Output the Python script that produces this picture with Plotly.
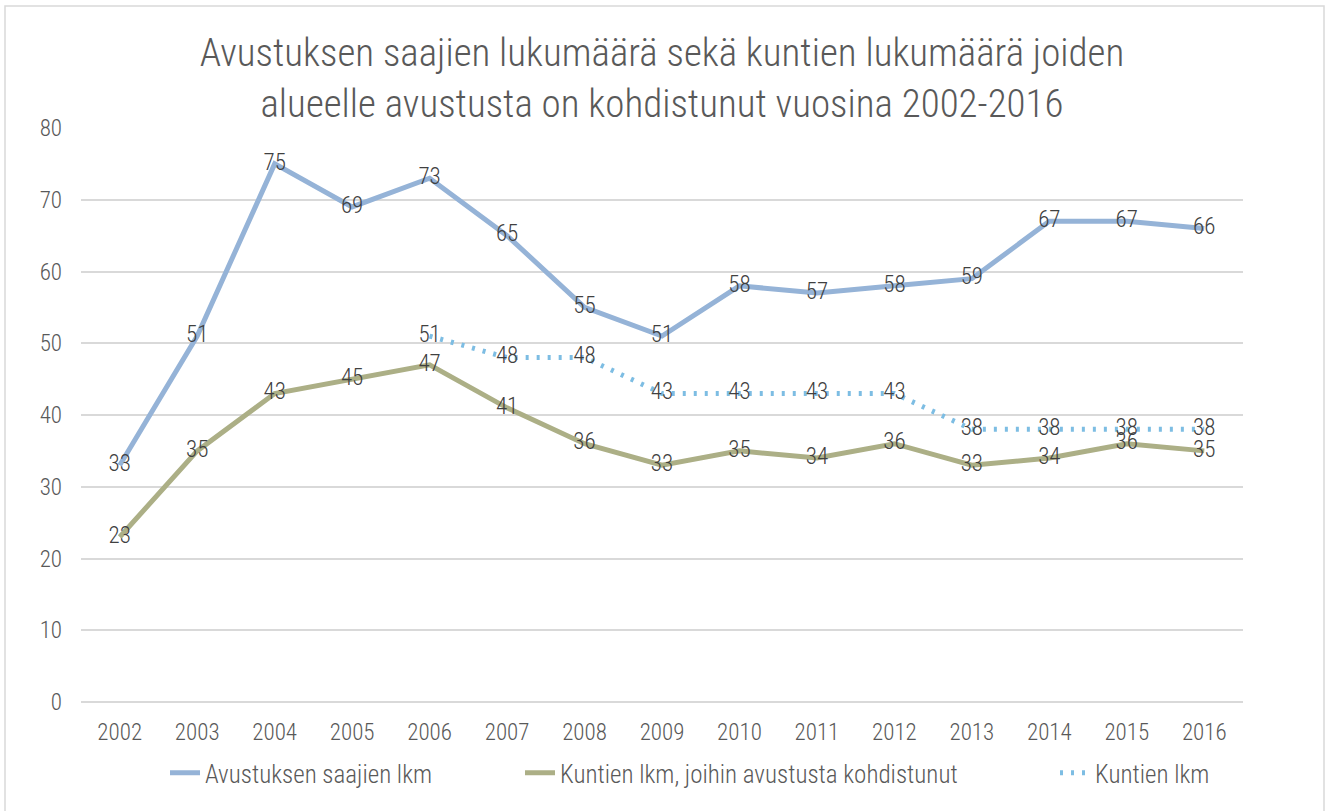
import plotly.graph_objects as go

years = [str(y) for y in range(2002, 2017)]
saajat = [33, 51, 75, 69, 73, 65, 55, 51, 58, 57, 58, 59, 67, 67, 66]
kunnat_kohd = [23, 35, 43, 45, 47, 41, 36, 33, 35, 34, 36, 33, 34, 36, 35]
kunnat = [None, None, None, None, 51, 48, 48, 43, 43, 43, 43, 38, 38, 38, 38]

names = ["Avustuksen saajien lkm", "Kuntien lkm, joihin avustusta kohdistunut", "Kuntien lkm"]
FONT = "Roboto Condensed, Liberation Sans Narrow, Arial Narrow, sans-serif"
LBL = 23

L, R, T, B = 81, 87, 128, 109
W, H = 1330, 811
pw, ph = W - L - R, H - T - B

def px_x(p):
    return (p - L) / pw

def px_y(p):
    return (H - B - p) / ph

fig = go.Figure()
fig.add_trace(go.Scatter(x=years, y=saajat, name=names[0], mode="lines+text", legend="legend",
                         line=dict(color="#95B3D7", width=5),
                         text=[str(v) for v in saajat], textposition="middle center",
                         textfont=dict(size=LBL, color="#404040", family=FONT, weight=300)))
fig.add_trace(go.Scatter(x=years, y=kunnat_kohd, name=names[1], mode="lines+text", legend="legend2",
                         line=dict(color="#ACAF86", width=5),
                         text=[str(v) for v in kunnat_kohd], textposition="middle center",
                         textfont=dict(size=LBL, color="#404040", family=FONT, weight=300)))
fig.add_trace(go.Scatter(x=years, y=kunnat, name=names[2], mode="lines+text", legend="legend3",
                         line=dict(color="#7DBDE3", width=5, dash="3px,8px"),
                         text=["" if v is None else str(v) for v in kunnat], textposition="middle center",
                         textfont=dict(size=LBL, color="#404040", family=FONT, weight=300)))

fig.add_shape(type="rect", xref="paper", yref="paper",
              x0=px_x(5), x1=px_x(1324), y0=px_y(815), y1=px_y(6),
              line=dict(color="#D9D9D9", width=1.5), fillcolor="rgba(0,0,0,0)", layer="below")

def leg(text_start):
    return dict(orientation="h", x=px_x(text_start - 40), xanchor="left", y=px_y(773), yanchor="middle",
                font=dict(size=25, color="#595959", weight=300), bgcolor="rgba(0,0,0,0)")

fig.update_layout(
    width=W, height=H,
    margin=dict(l=L, r=R, t=T, b=B),
    paper_bgcolor="white", plot_bgcolor="white",
    font=dict(family=FONT, color="#595959", weight=300),
    title=dict(text="Avustuksen saajien lukumäärä sekä kuntien lukumäärä joiden<br>alueelle avustusta on kohdistunut vuosina 2002-2016",
               x=0.5, xref="paper", xanchor="center", y=1 - 66 / H, yanchor="middle",
               font=dict(size=39, color="#595959", family=FONT, weight=300)),
    xaxis=dict(type="category", showgrid=False, showline=False, ticks="",
               ticklabelstandoff=14,
               tickfont=dict(size=23, color="#595959", weight=300), range=[-0.5, 14.5]),
    yaxis=dict(range=[0, 80], dtick=10, showgrid=True, gridcolor="#D9D9D9", gridwidth=1.5,
               zeroline=True, zerolinecolor="#D9D9D9", zerolinewidth=1.5,
               ticks="", ticklabelstandoff=18, tickfont=dict(size=23, color="#595959", weight=300)),
    legend=leg(205),
    legend2=leg(560),
    legend3=leg(1095),
    showlegend=True,
)

fig.write_html("out.html", config={"displayModeBar": False},
               post_script="document.body.style.margin='0';")
